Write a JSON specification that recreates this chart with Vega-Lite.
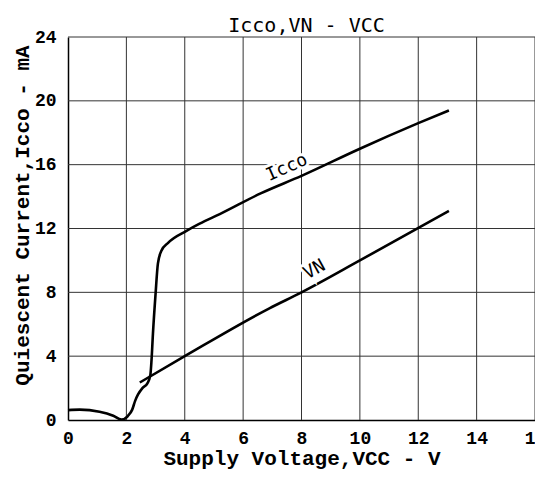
{
  "$schema": "https://vega.github.io/schema/vega-lite/v6.json",
  "width": 467,
  "height": 383,
  "autosize": "none",
  "padding": {"left": 68, "top": 37, "right": 0, "bottom": 63},
  "background": "white",
  "config": {
    "view": {"stroke": null},
    "axis": {
      "labelFont": "Liberation Mono",
      "labelFontWeight": "bold",
      "labelFontSize": 18,
      "labelColor": "black",
      "titleFont": "Liberation Mono",
      "titleFontWeight": "bold",
      "titleFontSize": 21,
      "titleColor": "black",
      "ticks": false,
      "grid": false,
      "domainColor": "black",
      "domainWidth": 1.5
    }
  },
  "title": {
    "text": "Icco,VN - VCC",
    "font": "DejaVu Sans Mono",
    "fontSize": 20,
    "fontWeight": "normal",
    "color": "black",
    "anchor": "middle",
    "frame": "group",
    "baseline": "bottom",
    "offset": 3,
    "dx": 5,
    "dy": 31
  },
  "datasets": {
    "curves": [
      {"series": "Icco", "vcc": 0, "val": 0.62},
      {"series": "Icco", "vcc": 0.4, "val": 0.65},
      {"series": "Icco", "vcc": 1.08, "val": 0.52},
      {"series": "Icco", "vcc": 1.55, "val": 0.27},
      {"series": "Icco", "vcc": 1.83, "val": 0.03},
      {"series": "Icco", "vcc": 2.05, "val": 0.25},
      {"series": "Icco", "vcc": 2.2, "val": 0.65},
      {"series": "Icco", "vcc": 2.3, "val": 1.2},
      {"series": "Icco", "vcc": 2.4, "val": 1.6},
      {"series": "Icco", "vcc": 2.55, "val": 2.0},
      {"series": "Icco", "vcc": 2.72, "val": 2.3},
      {"series": "Icco", "vcc": 2.82, "val": 2.8},
      {"series": "Icco", "vcc": 2.86, "val": 3.7},
      {"series": "Icco", "vcc": 2.91, "val": 5.4},
      {"series": "Icco", "vcc": 3.0, "val": 7.9},
      {"series": "Icco", "vcc": 3.08, "val": 9.8},
      {"series": "Icco", "vcc": 3.2, "val": 10.6},
      {"series": "Icco", "vcc": 3.43, "val": 11.1},
      {"series": "Icco", "vcc": 4.06, "val": 11.85},
      {"series": "Icco", "vcc": 4.51, "val": 12.3},
      {"series": "Icco", "vcc": 5.2, "val": 12.9},
      {"series": "Icco", "vcc": 6.6, "val": 14.2},
      {"series": "Icco", "vcc": 8, "val": 15.3},
      {"series": "Icco", "vcc": 10, "val": 17.0},
      {"series": "Icco", "vcc": 12, "val": 18.6},
      {"series": "Icco", "vcc": 13.05, "val": 19.4},
      {"series": "VN", "vcc": 2.46, "val": 2.35},
      {"series": "VN", "vcc": 4, "val": 4.0},
      {"series": "VN", "vcc": 6.9, "val": 7.0},
      {"series": "VN", "vcc": 8, "val": 8.0},
      {"series": "VN", "vcc": 10, "val": 10.0},
      {"series": "VN", "vcc": 13.05, "val": 13.1}
    ],
    "labels": [
      {"label": "Icco", "vcc": 7.5, "val": 15.8, "ang": -24},
      {"label": "VN", "vcc": 8.45, "val": 9.4, "ang": -29}
    ],
    "vgrid": [
      {"v": 2}, {"v": 4}, {"v": 6}, {"v": 8}, {"v": 10}, {"v": 12}, {"v": 14}, {"v": 16}
    ],
    "hgrid": [
      {"h": 4}, {"h": 8}, {"h": 12}, {"h": 16}, {"h": 20}, {"h": 24}
    ]
  },
  "layer": [
    {
      "data": {"name": "vgrid"},
      "mark": {"type": "rule", "color": "#333333", "strokeWidth": 1},
      "encoding": {
        "x": {"field": "v", "type": "quantitative"}
      }
    },
    {
      "data": {"name": "hgrid"},
      "mark": {"type": "rule", "color": "#333333", "strokeWidth": 1},
      "encoding": {
        "y": {"field": "h", "type": "quantitative"}
      }
    },
    {
      "data": {"name": "curves"},
      "mark": {"type": "line", "color": "black", "strokeWidth": 2.6, "interpolate": "monotone"},
      "encoding": {
        "x": {
          "field": "vcc", "type": "quantitative",
          "scale": {"domain": [0, 16], "nice": false, "zero": false},
          "axis": {"values": [0, 2, 4, 6, 8, 10, 12, 14, 16], "title": "Supply Voltage,VCC - V", "labelPadding": 9, "titlePadding": 0, "labelFlush": false}
        },
        "y": {
          "field": "val", "type": "quantitative",
          "scale": {"domain": [0, 24], "nice": false},
          "axis": {"values": [0, 4, 8, 12, 16, 20, 24], "title": "Quiescent Current,Icco - mA", "labelPadding": 12, "titlePadding": 2, "titleY": 178}
        },
        "detail": {"field": "series"}
      }
    },
    {
      "data": {"name": "labels"},
      "mark": {"type": "text", "font": "DejaVu Sans Mono", "fontSize": 18, "color": "white", "stroke": "white", "strokeWidth": 6, "align": "center", "baseline": "middle"},
      "encoding": {
        "x": {"field": "vcc", "type": "quantitative"},
        "y": {"field": "val", "type": "quantitative"},
        "text": {"field": "label"},
        "angle": {"field": "ang", "type": "quantitative", "scale": null}
      }
    },
    {
      "data": {"name": "labels"},
      "mark": {"type": "text", "font": "DejaVu Sans Mono", "fontSize": 18, "color": "black", "align": "center", "baseline": "middle"},
      "encoding": {
        "x": {"field": "vcc", "type": "quantitative"},
        "y": {"field": "val", "type": "quantitative"},
        "text": {"field": "label"},
        "angle": {"field": "ang", "type": "quantitative", "scale": null}
      }
    }
  ]
}
